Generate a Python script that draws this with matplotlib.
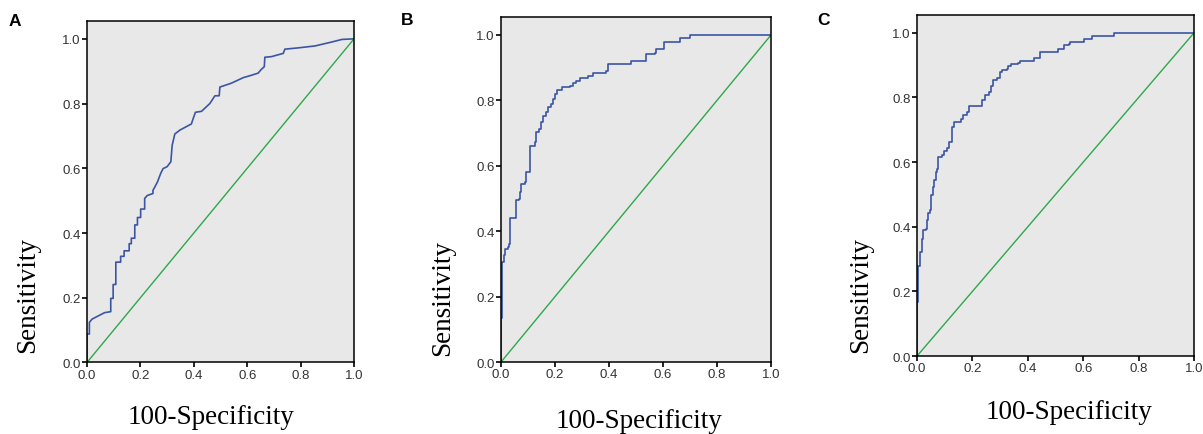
import matplotlib
matplotlib.use('Agg')
import matplotlib.pyplot as plt
import numpy as np

# ROC curve vertices (1 - specificity, sensitivity)
# panel A: corners given explicitly (part of the curve is slanted)
fpr_a = [0, 0, 0.009, 0.009, 0.019, 0.066, 0.089, 0.089, 0.098, 0.098, 0.108, 0.108, 0.126,
         0.126, 0.139, 0.139, 0.158, 0.158, 0.166, 0.166, 0.179, 0.179, 0.189, 0.189, 0.201,
         0.201, 0.216, 0.216, 0.226, 0.247, 0.247, 0.254, 0.264, 0.276, 0.285, 0.300, 0.314,
         0.319, 0.329, 0.348, 0.391, 0.397, 0.406, 0.429, 0.460, 0.479, 0.495, 0.4977,
         0.541, 0.585, 0.610, 0.641, 0.651, 0.664, 0.666, 0.691, 0.735, 0.741, 0.791,
         0.854, 0.916, 0.954, 1.0]
tpr_a = [0, 0.088, 0.088, 0.124, 0.134, 0.154, 0.157, 0.198, 0.198, 0.241, 0.241, 0.31, 0.31,
         0.328, 0.328, 0.345, 0.345, 0.367, 0.367, 0.384, 0.384, 0.425, 0.425, 0.448, 0.448,
         0.474, 0.474, 0.507, 0.516, 0.522, 0.532, 0.542, 0.558, 0.584, 0.599, 0.605, 0.620,
         0.671, 0.706, 0.718, 0.737, 0.752, 0.773, 0.776, 0.800, 0.824, 0.824, 0.851,
         0.863, 0.880, 0.886, 0.894, 0.904, 0.914, 0.943, 0.945, 0.955, 0.968, 0.972,
         0.978, 0.990, 0.998, 1.0]

# panels B and C: step tops, drawn as a staircase
fpr_b = [0, 0, 0.003, 0.005, 0.01, 0.015, 0.026, 0.03, 0.032, 0.035, 0.051, 0.054, 0.057,
         0.067, 0.072, 0.075, 0.088, 0.094, 0.101, 0.106, 0.125, 0.131, 0.141, 0.149, 0.156,
         0.168, 0.174, 0.186, 0.193, 0.199, 0.207, 0.227, 0.254, 0.267, 0.279, 0.291, 0.322,
         0.341, 0.39, 0.396, 0.477, 0.483, 0.532, 0.538, 0.569, 0.575, 0.6, 0.602, 0.659,
         0.662, 0.7, 1.0]
tpr_b = [0, 0.134, 0.195, 0.307, 0.327, 0.347, 0.352, 0.362, 0.418, 0.439, 0.439, 0.464, 0.494,
         0.5, 0.52, 0.545, 0.55, 0.58, 0.58, 0.662, 0.672, 0.703, 0.713, 0.733, 0.753,
         0.763, 0.779, 0.789, 0.804, 0.819, 0.832, 0.84, 0.845, 0.853, 0.86, 0.87, 0.875,
         0.885, 0.89, 0.91, 0.91, 0.92, 0.92, 0.941, 0.946, 0.958, 0.958, 0.98, 0.98,
         0.99, 1.0, 1.0]

fpr_c = [0, 0, 0.002, 0.005, 0.011, 0.017, 0.023, 0.033, 0.035, 0.039, 0.045, 0.049, 0.057,
         0.061, 0.069, 0.073, 0.077, 0.089, 0.098, 0.107, 0.117, 0.123, 0.125, 0.134, 0.159,
         0.167, 0.182, 0.189, 0.228, 0.234, 0.246, 0.258, 0.266, 0.273, 0.29, 0.298, 0.306,
         0.324, 0.33, 0.34, 0.366, 0.37, 0.42, 0.423, 0.439, 0.442, 0.505, 0.507, 0.529,
         0.531, 0.55, 0.553, 0.599, 0.601, 0.628, 0.63, 0.71, 0.711, 1.0]
tpr_c = [0, 0.167, 0.208, 0.28, 0.322, 0.363, 0.389, 0.394, 0.42, 0.441, 0.451, 0.497, 0.523,
         0.544, 0.57, 0.58, 0.616, 0.621, 0.634, 0.642, 0.663, 0.663, 0.71, 0.723, 0.734,
         0.746, 0.754, 0.775, 0.775, 0.792, 0.808, 0.818, 0.834, 0.855, 0.86, 0.878, 0.885,
         0.887, 0.897, 0.903, 0.905, 0.912, 0.912, 0.922, 0.922, 0.94, 0.942, 0.95, 0.952,
         0.962, 0.964, 0.972, 0.972, 0.98, 0.982, 0.99, 0.99, 1.0, 1.0]

panels = ['A', 'B', 'C']
curves = [(fpr_a, tpr_a), (fpr_b, tpr_b), (fpr_c, tpr_c)]
styles = ['default', 'steps-post', 'steps-post']
ticks = [0.0, 0.2, 0.4, 0.6, 0.8, 1.0]

# layout, in figure fractions
axes_pos = [[0.0723, 0.1644, 0.2220, 0.7850],
            [0.4165, 0.1655, 0.2244, 0.7931],
            [0.7623, 0.1793, 0.2303, 0.7839]]
ylabel_pos = [(0.0233, 0.322), (0.368, 0.315), (0.715, 0.322)]
xlabel_pos = [(0.1754, 0.041), (0.531, 0.030), (0.889, 0.051)]
letter_pos = [(0.007, 0.968), (0.333, 0.970), (0.679, 0.970)]

blue = '#3A55A4'
green = '#2EA84A'
bg = '#E8E8E8'
serif = 'Liberation Serif'

fig = plt.figure(figsize=(12.03, 4.35), dpi=100)

for i in range(3):
    ax = fig.add_axes(axes_pos[i])
    ax.set_facecolor(bg)
    x, y = curves[i]
    ax.plot([0, 1], [0, 1], color=green, lw=1.0)
    ax.plot(x, y, color=blue, lw=1.2, drawstyle=styles[i])
    ax.set_xlim(0, 1)
    ax.set_ylim(0, 1.055)
    ax.set_xticks(ticks)
    ax.set_yticks(ticks)
    ax.set_xticklabels([f'{t:.1f}' for t in ticks])
    ax.set_yticklabels([f'{t:.1f}' for t in ticks])
    ax.tick_params(direction='out', length=3.5, width=1.2, pad=1,
                   labelsize=9.5, labelcolor='#333333')
    for lab in ax.get_xticklabels() + ax.get_yticklabels():
        lab.set_family('Liberation Sans')
    for s in ax.spines.values():
        s.set_linewidth(1.1)

    fig.text(*ylabel_pos[i], 'Sensitivity', rotation=90, ha='center', va='center',
             family=serif, fontsize=19.5)
    fig.text(*xlabel_pos[i], '100-Specificity', ha='center', va='center',
             family=serif, fontsize=19.5)
    fig.text(*letter_pos[i], panels[i], ha='left', va='top',
             family='Liberation Sans', fontweight='bold', fontsize=12.5)

plt.savefig('out.png', dpi=100)
